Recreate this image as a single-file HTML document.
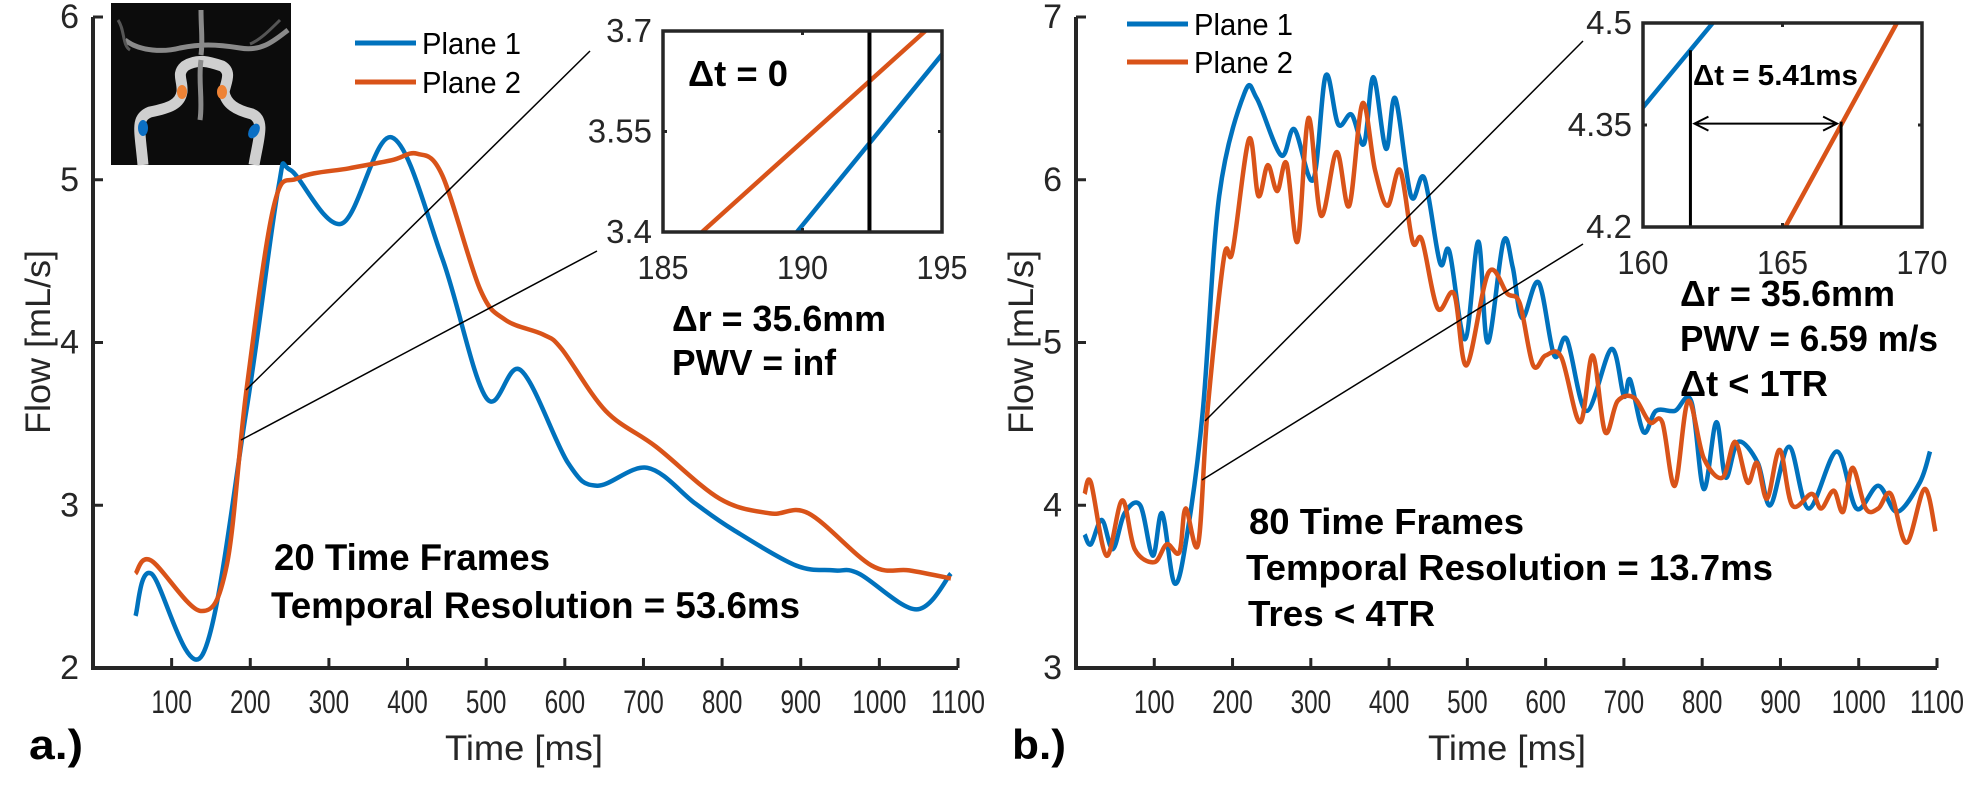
<!DOCTYPE html>
<html><head><meta charset="utf-8"><style>
body{margin:0;background:#fff;}
svg text{font-family:"Liberation Sans",Arial,sans-serif;}
</style></head><body>
<svg id="fig" width="1980" height="807" viewBox="0 0 1980 807" xmlns="http://www.w3.org/2000/svg">
<rect width="1980" height="807" fill="#fff"/>
<g id="brain">
<rect x="111" y="3" width="180" height="162" fill="#0c0c0c"/>
<path d="M143 165 C140 130 135 118 150 112 C170 108 180 104 182 92 C183 80 176 74 185 66 C198 58 210 62 222 66 C232 72 226 82 224 92 C226 104 236 110 252 114 C266 120 258 140 254 165" fill="none" stroke="#cfcfcf" stroke-width="11"/>
<path d="M125 40 C140 52 165 52 180 48 C200 44 215 44 240 48 C262 52 275 40 288 30 M201 10 C201 30 203 40 201 55 M201 60 C198 80 203 100 200 120" fill="none" stroke="#8a8a8a" stroke-width="5"/>
<path d="M118 20 C125 30 122 45 130 50 M280 20 C270 30 260 40 250 44" fill="none" stroke="#555" stroke-width="3"/>
<ellipse cx="143" cy="128" rx="5" ry="8" fill="#0b6fc4"/>
<ellipse cx="254" cy="131" rx="5" ry="8" fill="#0b6fc4" transform="rotate(30 254 131)"/>
<ellipse cx="182" cy="92" rx="5" ry="7" fill="#ee8336"/>
<ellipse cx="222" cy="92" rx="5" ry="7" fill="#ee8336"/>
</g>
</svg>
<script>
// ---------- Panel a data ----------
const aBlueT=[54,74,139,195,235,251,316,380,444,500,544,604,641,705,766,814,894,942,974,1047,1091];
const aBlueV=[2.32,2.58,2.08,3.58,4.93,5.06,4.73,5.26,4.52,3.66,3.83,3.26,3.12,3.23,3.01,2.85,2.63,2.60,2.58,2.36,2.58];
const aOrT=[54,74,137,170,195,230,261,325,380,412,444,492,524,572,596,652,716,797,861,910,990,1038,1091];
const aOrV=[2.58,2.66,2.35,2.63,3.70,4.84,5.01,5.07,5.12,5.16,5.03,4.33,4.14,4.05,3.96,3.58,3.36,3.04,2.95,2.95,2.63,2.60,2.55];
const aXTicks=[100,200,300,400,500,600,700,800,900,1000,1100];
const aYTicks=[2,3,4,5,6];
// ---------- Panel b data ----------
const bBlueT=[11,19,33,47,62,82,98,110,126,142,162,183,215,231,262,279,303,319,335,352,368,380,396,408,428,445,465,477,497,514,526,546,558,570,591,611,627,652,684,700,708,725,741,765,786,802,818,830,846,871,887,911,936,972,997,1025,1049,1078,1091];
const bBlueV=[3.82,3.76,3.91,3.73,3.95,4.0,3.69,3.95,3.52,3.82,4.58,5.90,6.53,6.50,6.15,6.31,6.0,6.64,6.34,6.4,6.22,6.63,6.19,6.5,5.9,6.01,5.49,5.56,5.02,5.62,5.0,5.62,5.46,5.15,5.37,4.92,5.02,4.58,4.96,4.67,4.77,4.45,4.58,4.58,4.64,4.10,4.51,4.17,4.39,4.26,4.0,4.36,3.98,4.33,3.98,4.12,3.96,4.14,4.33];
const bOrT=[11,19,39,59,75,100,116,132,140,156,168,189,200,221,233,245,257,269,283,297,313,333,349,366,382,398,414,430,442,462,483,499,527,551,567,584,600,620,644,660,676,692,713,733,749,765,782,802,826,842,858,870,883,899,915,940,952,968,980,992,1009,1025,1041,1061,1084,1098];
const bOrV=[4.07,4.14,3.69,4.03,3.73,3.65,3.76,3.71,3.98,3.76,4.58,5.52,5.56,6.25,5.90,6.09,5.93,6.1,5.62,6.38,5.78,6.17,5.84,6.47,6.06,5.84,6.06,5.62,5.63,5.21,5.30,4.86,5.43,5.30,5.24,4.86,4.92,4.91,4.51,4.92,4.45,4.64,4.66,4.51,4.51,4.12,4.64,4.29,4.17,4.39,4.14,4.26,4.04,4.34,4.0,4.07,3.98,4.09,3.96,4.23,3.98,3.98,4.07,3.77,4.10,3.84];
const bXTicks=[100,200,300,400,500,600,700,800,900,1000,1100];
const bYTicks=[3,4,5,6,7];
// ---------- inset data ----------
const iaXTicks=[185,190,195];
const iaYTicks=[3.4,3.55,3.7];
const iaBlueT=[189.8,195]; const iaBlueV=[3.4,3.665];
const iaOrT=[186.4,194.4]; const iaOrV=[3.4,3.7];
const iaMarkT=[192.4];
const ibXTicks=[160,165,170];
const ibYTicks=[4.2,4.35,4.5];
const ibBlueT=[160,162.5]; const ibBlueV=[4.376,4.5];
const ibOrT=[165.1,169.1]; const ibOrV=[4.2,4.5];
const ibMarkT=[161.7,167.1]; const ibMarkV=[4.46,4.355];

const NS="http://www.w3.org/2000/svg";
const svg=document.getElementById('fig');
function el(tag,attrs,parent){const e=document.createElementNS(NS,tag);for(const k in attrs)e.setAttribute(k,attrs[k]);(parent||svg).appendChild(e);return e;}
function txt(s,attrs,parent){const e=el('text',attrs,parent);e.textContent=s;return e;}
function lin(d0,d1,r0,r1){return v=>r0+(v-d0)/(d1-d0)*(r1-r0);}
function smooth(pts){let d='M'+pts[0][0].toFixed(1)+' '+pts[0][1].toFixed(1);
 for(let i=0;i<pts.length-1;i++){const p0=pts[Math.max(0,i-1)],p1=pts[i],p2=pts[i+1],p3=pts[Math.min(pts.length-1,i+2)];
 const c1=[p1[0]+(p2[0]-p0[0])/6,p1[1]+(p2[1]-p0[1])/6],c2=[p2[0]-(p3[0]-p1[0])/6,p2[1]-(p3[1]-p1[1])/6];
 d+=' C'+c1[0].toFixed(1)+' '+c1[1].toFixed(1)+' '+c2[0].toFixed(1)+' '+c2[1].toFixed(1)+' '+p2[0].toFixed(1)+' '+p2[1].toFixed(1);}
 return d;}
const BLUE='#0072bd',ORANGE='#d95319',AX='#262626';

function panel(cfg){
 const g=el('g',{});
 
 
 const x=lin(0,1100,cfg.x0,cfg.x1), y=lin(cfg.ymin,cfg.ymax,668,17);
 const s1=el('path',{d:smooth(cfg.bT.map((t,i)=>[x(t),y(cfg.bV[i])])),fill:'none',stroke:BLUE,'stroke-width':4.5,'stroke-linejoin':'round'},g);
 
 
 const s2=el('path',{d:smooth(cfg.oT.map((t,i)=>[x(t),y(cfg.oV[i])])),fill:'none',stroke:ORANGE,'stroke-width':4.5,'stroke-linejoin':'round'},g);
 
 
 const ax=el('path',{d:`M${cfg.x0} 17 V668 H${cfg.x1}`,fill:'none',stroke:AX,'stroke-width':4},g);
 
 
 cfg.xt.forEach(t=>{el('line',{x1:x(t),x2:x(t),y1:668,y2:658,stroke:AX,'stroke-width':3},g);
  const l=txt(String(t),{x:x(t),y:713,'text-anchor':'middle','font-size':32,fill:AX,textLength:String(t).length*13.5,lengthAdjust:'spacingAndGlyphs'},g);
  
  });
 cfg.yt.forEach(v=>{el('line',{x1:cfg.x0,x2:cfg.x0+10,y1:y(v),y2:y(v),stroke:AX,'stroke-width':3},g);
  const l=txt(String(v),{x:cfg.x0-14,y:y(v)+11,'text-anchor':'end','font-size':34,fill:AX},g);
  
  });
 const xt=txt('Time [ms]',{x:cfg.x0+431-79,y:760,'font-size':35,fill:AX,textLength:158,lengthAdjust:'spacingAndGlyphs'},g);
 
 
 const yt=txt('Flow [mL/s]',{x:-92,y:0,'font-size':35,fill:AX,textLength:184,lengthAdjust:'spacingAndGlyphs',transform:`translate(${cfg.x0-43} 342) rotate(-90)`},g);
 
 
 const pl=txt(cfg.label,{x:cfg.x0-64,y:759,'font-size':42,'font-weight':'bold',fill:'#000',textLength:54,lengthAdjust:'spacingAndGlyphs'},g);
 
 
 const lg=el('g',{},g);
 
 
 [[BLUE,'Plane 1',cfg.legY[0]],[ORANGE,'Plane 2',cfg.legY[1]]].forEach(([c,s,ly])=>{
  el('line',{x1:cfg.legX,x2:cfg.legX+61,y1:ly,y2:ly,stroke:c,'stroke-width':5},lg);
  const t=txt(s,{x:cfg.legX+67,y:ly+11,'font-size':31,fill:'#000',textLength:99,lengthAdjust:'spacingAndGlyphs'},lg);
  
  });
 cfg.conn.forEach(c=>{const l=el('line',{x1:c[0],y1:c[1],x2:c[2],y2:c[3],stroke:'#000','stroke-width':1.5},g);
  
  });
 cfg.notes.forEach(n=>{const t=txt(n[0],{x:n[1],y:n[2],'font-size':n[4],'font-weight':'bold',fill:'#000',textLength:n[3],lengthAdjust:'spacingAndGlyphs'},g);
  
  });
 return {x,y};
}

function inset(c){
 const g=el('g',{});
 
 
 const x=lin(c.xt[0],c.xt[2],c.L,c.R), y=lin(c.yt[0],c.yt[2],c.B,c.T);
 el('rect',{x:c.L,y:c.T,width:c.R-c.L,height:c.B-c.T,fill:'#fff'},g);
 const b=el('path',{d:`M${x(c.bT[0])} ${y(c.bV[0])} L${x(c.bT[1])} ${y(c.bV[1])}`,stroke:BLUE,'stroke-width':4.5},g);
 
 
 const o=el('path',{d:`M${x(c.oT[0])} ${y(c.oV[0])} L${x(c.oT[1])} ${y(c.oV[1])}`,stroke:ORANGE,'stroke-width':4.5},g);
 
 
 c.markT.forEach((t,i)=>{const top=c.markV?y(c.markV[i]):c.T;
  const m=el('line',{x1:x(t),x2:x(t),y1:top,y2:c.B,stroke:'#000','stroke-width':c.markW},g);
  
  });
 if(c.arrow){const ay=y(4.355)+2,x1=x(c.markT[0])+4,x2=x(c.markT[1])-4;
  const a=el('path',{d:`M${x1} ${ay} H${x2} M${x1+14} ${ay-7} L${x1} ${ay} L${x1+14} ${ay+7} M${x2-14} ${ay-7} L${x2} ${ay} L${x2-14} ${ay+7}`,fill:'none',stroke:'#000','stroke-width':2},g);
  
  }
 el('rect',{x:c.L,y:c.T,width:c.R-c.L,height:c.B-c.T,fill:'none',stroke:AX,'stroke-width':3.5},g);
 c.xt.forEach(t=>{el('line',{x1:x(t),x2:x(t),y1:c.B,y2:c.B-4,stroke:AX,'stroke-width':3},g);el('line',{x1:x(t),x2:x(t),y1:c.T,y2:c.T+4,stroke:AX,'stroke-width':3},g);
  const l=txt(String(t),{x:x(t),y:c.B+47,'text-anchor':'middle','font-size':33,fill:AX,textLength:String(t).length*17,lengthAdjust:'spacingAndGlyphs'},g);
  
  });
 c.yt.forEach(v=>{el('line',{x1:c.L,x2:c.L+4,y1:y(v),y2:y(v),stroke:AX,'stroke-width':3},g);el('line',{x1:c.R,x2:c.R-4,y1:y(v),y2:y(v),stroke:AX,'stroke-width':3},g);
  const l=txt(String(v),{x:c.L-11,y:y(v)+11,'text-anchor':'end','font-size':33,fill:AX},g);
  
  });
}

panel({name:'panel-a',label:'a.)',x0:93,x1:958,ymin:2,ymax:6,bT:aBlueT,bV:aBlueV,oT:aOrT,oV:aOrV,xt:aXTicks,yt:aYTicks,
 legX:355,legY:[43,82],
 conn:[[246,390,590,51],[241,440,597,251]],
 notes:[['20 Time Frames',274,570,276,37],['Temporal Resolution = 53.6ms',271,618,529,37]]});
panel({name:'panel-b',label:'b.)',x0:1076,x1:1937,ymin:3,ymax:7,bT:bBlueT,bV:bBlueV,oT:bOrT,oV:bOrV,xt:bXTicks,yt:bYTicks,
 legX:1127,legY:[24,62],
 conn:[[1205,421,1583,41],[1202,480,1583,244]],
 notes:[['80 Time Frames',1249,534,275,36],['Temporal Resolution = 13.7ms',1246,580,527,36],['Tres < 4TR',1248,626,187,36]]});

inset({name:'inset-a',L:663,R:942,T:31,B:232,xt:iaXTicks,yt:iaYTicks,bT:iaBlueT,bV:iaBlueV,oT:iaOrT,oV:iaOrV,markT:iaMarkT,markW:4});
inset({name:'inset-b',L:1643,R:1922,T:23,B:227,xt:ibXTicks,yt:ibYTicks,bT:ibBlueT,bV:ibBlueV,oT:ibOrT,oV:ibOrV,markT:ibMarkT,markV:ibMarkV,markW:3,arrow:true});

const notes=[['Δt = 0',688,86,100,36],['Δr = 35.6mm',672,331,214,36],['PWV = inf',672,375,164,36],
 ['Δt = 5.41ms',1693,85,165,29],['Δr = 35.6mm',1680,306,215,36],['PWV = 6.59 m/s',1680,351,258,36],['Δt < 1TR',1680,396,148,36]];
notes.forEach(n=>{const t=txt(n[0],{x:n[1],y:n[2],'font-size':n[4],'font-weight':'bold',fill:'#000',textLength:n[3],lengthAdjust:'spacingAndGlyphs'});
 
 });
</script>
</body></html>
